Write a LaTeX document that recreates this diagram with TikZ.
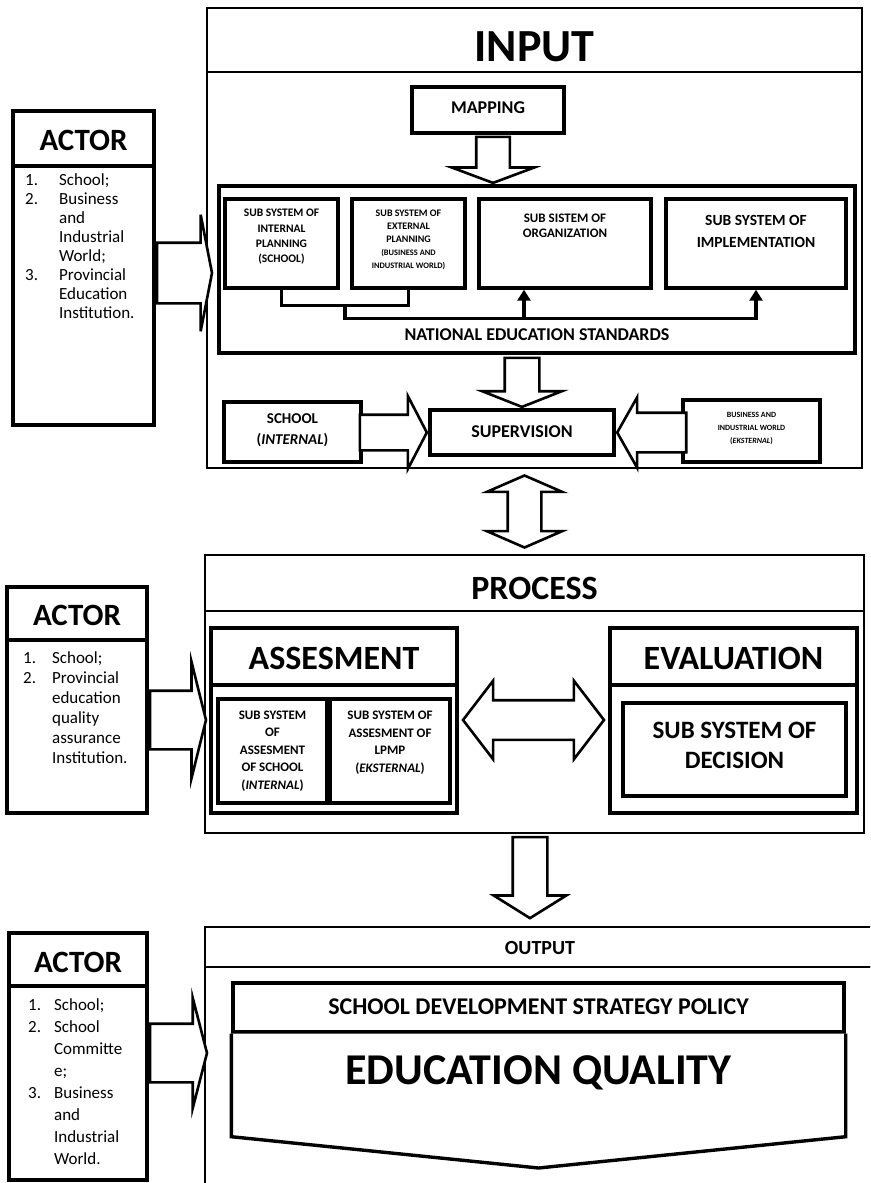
\documentclass[tikz,border=0pt]{standalone}
\usepackage{fontspec}
\setmainfont{Carlito}
\usepackage{tikz}
\usetikzlibrary{calc,positioning,shapes.arrows,arrows.meta}
\newcommand{\fsz}[2]{\fontsize{#1}{#2}\selectfont}

\begin{document}
\begin{tikzpicture}[x=1pt, y=-1pt, >={Triangle[length=11pt,width=13pt]},
  box/.style={draw, line width=3.4pt, fill=white, inner sep=0pt},
  frame/.style={draw, line width=2.6pt, inner sep=0pt},
  txt/.style={align=center, inner sep=0pt},
  listtxt/.style={inner sep=0pt, anchor=base west},
  fatarrow/.style={single arrow, draw, line width=2.6pt, fill=white},
  fatboth/.style={double arrow, draw, line width=2.6pt, fill=white},
  wire/.style={line width=3.4pt}]
\useasboundingbox (0,0) rectangle (870,1183);
\clip (0,0) rectangle (870,1183);

% input part
\node[frame, minimum width=655, minimum height=64] (inhead) at (534.5,40) {};
\node[frame, minimum width=655, minimum height=396] (inbody) at (534.5,270) {};
\node[txt, font=\bfseries\fsz{46}{50}] (intitle) at (534.5,47) {INPUT};

\node[box, minimum width=152, minimum height=46] (map) at (488,110) {};
\node[txt, font=\bfseries\fsz{18}{20}] (maptext) at (488,108) {MAPPING};

\node[box, minimum width=636, minimum height=167] (nes) at (537,269.5) {};
\node[txt, font=\bfseries\fsz{18}{20}] (nestext) at (537,335) {NATIONAL EDUCATION STANDARDS};

\node[box, minimum width=113, minimum height=89] (sub1) at (281.5,243.5) {};
\node[box, minimum width=113, minimum height=89] (sub2) at (408.5,243.5) {};
\node[box, minimum width=172, minimum height=89] (sub3) at (565,243.5) {};
\node[box, minimum width=180, minimum height=89] (sub4) at (756,243.5) {};
\node[txt, font=\bfseries\fsz{11.5}{15.3}] (sub1text) at (281.5,237) {SUB SYSTEM OF\\INTERNAL\\PLANNING\\(SCHOOL)};
\node[txt, font=\bfseries\fsz{10}{13}] (sub2text) at (408.5,240) {SUB SYSTEM OF\\EXTERNAL\\PLANNING\\\fsz{8.4}{13}(BUSINESS AND\\\fsz{8.4}{13}INDUSTRIAL WORLD)};
\node[txt, font=\bfseries\fsz{13}{15}] (sub3text) at (565,225.5) {SUB SISTEM OF\\ORGANIZATION};
\node[txt, font=\bfseries\fsz{15.5}{22}] (sub4text) at (756,231) {SUB SYSTEM OF\\IMPLEMENTATION};

\draw[wire] (sub1.south) -- ++(0,16) -| (sub2.south);
\coordinate (bus) at ($(sub1.south)!0.5!(sub2.south)+(0,16)$);
\draw[wire,->] (bus) -- ++(0,13) -| ([xshift=-41pt]sub3.south);
\draw[wire,->] (bus) ++(0,13) -| (sub4.south);

\node[box, minimum width=137, minimum height=60] (school) at (292.5,432) {};
\node[txt, font=\bfseries\fsz{15}{21}] (schooltext) at (292.5,430) {SCHOOL\\(\textit{INTERNAL})};
\node[box, minimum width=184, minimum height=45] (superv) at (522,432.5) {};
\node[txt, font=\bfseries\fsz{18}{20}] (supervtext) at (522,432) {SUPERVISION};
\node[box, minimum width=137, minimum height=62] (biz) at (751.5,431) {};
\node[txt, font=\bfseries\fsz{8}{13}] (biztext) at (751.5,428) {BUSINESS AND\\INDUSTRIAL WORLD\\(\textit{EKSTERNAL})};

% process part
\node[frame, minimum width=659, minimum height=56] (prochead) at (534.5,583) {};
\node[frame, minimum width=659, minimum height=222] (procbody) at (534.5,722) {};
\node[txt, font=\bfseries\fsz{34}{36}] (proctitle) at (534.5,588) {PROCESS};

\node[box, minimum width=246, minimum height=57] (asshead) at (334,656.5) {};
\node[box, minimum width=246, minimum height=128] (assbody) at (334,749) {};
\node[txt, font=\bfseries\fsz{34}{36}] (asstitle) at (334,658) {ASSESMENT};
\node[box, minimum width=109, minimum height=104] (ss1) at (272.5,751) {};
\node[box, minimum width=120, minimum height=104] (ss2) at (390,751) {};
\node[txt, font=\bfseries\fsz{13}{17.5}] (ss1text) at (272.5,751) {SUB SYSTEM\\OF\\ASSESMENT\\OF SCHOOL\\(\textit{INTERNAL})};
\node[txt, font=\bfseries\fsz{13}{17.5}] (ss2text) at (390,742.5) {SUB SYSTEM OF\\ASSESMENT OF\\LPMP\\(\textit{EKSTERNAL})};

\node[box, minimum width=247, minimum height=57] (evalhead) at (733.5,656.5) {};
\node[box, minimum width=247, minimum height=128] (evalbody) at (733.5,749) {};
\node[txt, font=\bfseries\fsz{34}{36}] (evaltitle) at (733.5,658) {EVALUATION};
\node[box, minimum width=223, minimum height=93] (decision) at (734.5,749.5) {};
\node[txt, font=\bfseries\fsz{25}{30}] (decisiontext) at (734.5,745) {SUB SYSTEM OF\\DECISION};

% output part
\node[frame, minimum width=695, minimum height=40] (outhead) at (552.5,947) {};
\node[frame, minimum width=695, minimum height=243] (outbody) at (552.5,1088.5) {};
\node[txt, font=\bfseries\fsz{20}{22}] (outtitle) at (540,948) {OUTPUT};
\node[box, minimum width=611, minimum height=49] (sdsp) at (538.5,1007.5) {};
\draw[line width=3.4pt, fill=white] (sdsp.south west) -- ++(0,103) -- (538.5,1168)
  -- ($(sdsp.south east)+(0,103)$) -- (sdsp.south east);
\node[txt, font=\bfseries\fsz{24}{26}] (sdsptext) at (538.5,1007) {SCHOOL DEVELOPMENT STRATEGY POLICY};
\node[txt, font=\bfseries\fsz{44}{46}] (quality) at (538.5,1073) {EDUCATION QUALITY};

% actors
\node[box, minimum width=141, minimum height=55] (ahead1) at (83.5,138.5) {};
\node[box, minimum width=141, minimum height=259] (abody1) at (83.5,295.5) {};
\node[txt, font=\bfseries\fsz{31}{33}] (actor1) at (83.5,140) {ACTOR};
\node[listtxt, font=\fsz{17}{19}] (alist1) at (25,185) {\begin{tabular}[t]{@{}l@{\hspace{21pt}}l@{}}
1. & School;\\ 2. & Business\\ & and\\ & Industrial\\ & World;\\
3. & Provincial\\ & Education\\ & Institution.\end{tabular}};

\node[box, minimum width=140, minimum height=53] (ahead2) at (77,613.5) {};
\node[box, minimum width=140, minimum height=173] (abody2) at (77,726.5) {};
\node[txt, font=\bfseries\fsz{31}{33}] (actor2) at (77,615) {ACTOR};
\node[listtxt, font=\fsz{17}{20}] (alist2) at (23,663) {\begin{tabular}[t]{@{}l@{\hspace{16pt}}l@{}}
1. & School;\\ 2. & Provincial\\ & education\\ & quality\\ & assurance\\
 & Institution.\end{tabular}};

\node[box, minimum width=138, minimum height=53] (ahead3) at (78,959.5) {};
\node[box, minimum width=138, minimum height=194] (abody3) at (78,1083) {};
\node[txt, font=\bfseries\fsz{31}{33}] (actor3) at (78,962) {ACTOR};
\node[listtxt, font=\fsz{17}{22}] (alist3) at (28,1010) {\begin{tabular}[t]{@{}l@{\hspace{13pt}}l@{}}
1. & School;\\ 2. & School\\ & Committe\\ & e;\\ 3. & Business\\
 & and\\ & Industrial\\ & World.\end{tabular}};

% block arrows
\node[fatarrow, shape border rotate=270, inner sep=15.5pt, minimum height=46,
  single arrow head extend=24.5, single arrow tip angle=139, anchor=tip]
  (mapdown) at ([xshift=-44pt]nes.north) {};
\node[fatarrow, shape border rotate=270, inner sep=16pt, minimum height=49,
  single arrow head extend=22.5, single arrow tip angle=137, anchor=tip]
  (nesdown) at (superv.north) {};
\node[fatarrow, inner xsep=0pt, inner ysep=16.5pt, minimum height=67,
  single arrow head extend=18.5, single arrow tip angle=125, anchor=tip]
  (schoolin) at (superv.west) {};
\node[fatarrow, shape border rotate=180, inner xsep=0pt, inner ysep=18.5pt, minimum height=69,
  single arrow head extend=15.5, single arrow tip angle=121, anchor=tip]
  (bizin) at (superv.east) {};
\node[fatboth, shape border rotate=90, inner sep=15.5pt, minimum height=72,
  double arrow head extend=21, double arrow tip angle=133]
  (inproc) at ($(inbody.south)!0.5!(prochead.north)+(-10,0)$) {};
\node[fatboth, inner xsep=0pt, inner ysep=18.5pt, minimum height=141,
  double arrow head extend=19.5, double arrow tip angle=105]
  (asseval) at ($(assbody.east)!0.5!(evalbody.west)+(0,-29)$) {};
\node[fatarrow, shape border rotate=270, inner sep=16pt, minimum height=81,
  single arrow head extend=19, single arrow tip angle=116, anchor=tip]
  (procout) at ([xshift=-22.5pt,yshift=6pt]outhead.north) {};
\node[fatarrow, inner xsep=0pt, inner ysep=29pt, minimum height=55,
  single arrow head extend=28, single arrow tip angle=158, anchor=tail]
  (actin1) at ([yshift=22.5pt]abody1.east) {};
\node[fatarrow, inner xsep=0pt, inner ysep=28pt, minimum height=56,
  single arrow head extend=29, single arrow tip angle=152, anchor=tail]
  (actin2) at ([yshift=6.5pt]abody2.east) {};
\node[fatarrow, inner xsep=0pt, inner ysep=28pt, minimum height=57,
  single arrow head extend=26, single arrow tip angle=151, anchor=tail]
  (actin3) at ([yshift=30pt]abody3.east) {};
\end{tikzpicture}
\end{document}
